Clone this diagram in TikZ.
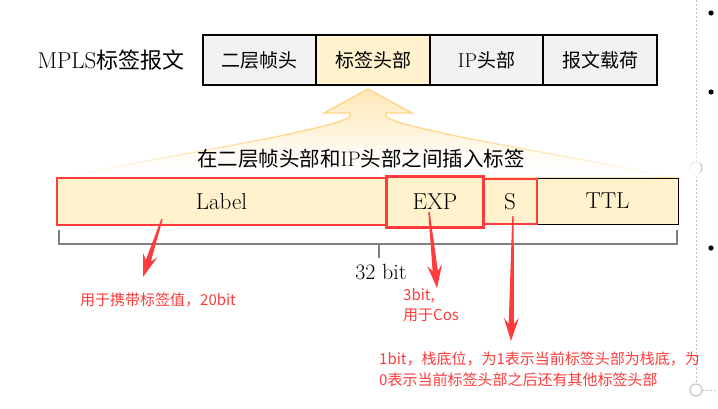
\documentclass[tikz,border=0pt]{standalone}
\usepackage{fontspec}
\newfontfamily\cjk{Noto Sans CJK SC}
\usetikzlibrary{calc,fadings}
\definecolor{boxgray}{HTML}{F2F2F2}
\definecolor{boxyel}{HTML}{FFF2CC}
\definecolor{myred}{HTML}{FF3B3B}
\definecolor{arrowline}{HTML}{FFD585}
\definecolor{arrowfill}{HTML}{FFE9B8}
\definecolor{brgray}{HTML}{808080}
\definecolor{guide}{HTML}{BFBFBF}
\newcommand\zh[1]{{\cjk #1}}
\newcommand\taperarrow[2]{%
  \coordinate (#1n) at ($(#2)!17pt!(#1)$);
  \coordinate (#1w) at ($(#2)!23pt!(#1)$);
  \fill[myred] ($(#1)!0.7pt!90:(#2)$) -- ($(#1n)!2.6pt!90:(#2)$) -- ($(#1w)!7.5pt!90:(#2)$)
    -- (#2) -- ($(#1w)!7.5pt!-90:(#2)$) -- ($(#1n)!2.6pt!-90:(#2)$) -- ($(#1)!0.7pt!-90:(#2)$) -- cycle;}
\begin{document}
\begin{tikzpicture}[x=1pt,y=-1pt,
  topbox/.style={draw=black,line width=1.5pt,minimum height=50pt,inner sep=0pt,
    font=\cjk\fontsize{19}{19}\selectfont},
  field/.style={minimum height=46pt,inner sep=0pt,fill=boxyel,font=\fontsize{23}{23}\selectfont},
  redtext/.style={text=myred,align=left,inner sep=0pt,font=\cjk\fontsize{15}{20.5}\selectfont},
  bracket/.style={draw=brgray,line width=2pt},
  guideline/.style={draw=guide,dashed,line width=0.6pt,dash pattern=on 2pt off 2pt}]
\useasboundingbox (0,0) rectangle (718,408);
\fill[white] (0,0) rectangle (718,408);

% slide artefacts on the right
\draw[guideline] (696,0) -- (696,384);
\draw[guideline] (702,390) -- (718,390);
\draw[guide,line width=1pt,fill=white] (696,168) circle (6pt);
\draw[guide,line width=1pt,fill=white] (696,390) circle (6pt);
\foreach \yy in {13,92,248} \fill[black] (711,\yy) circle (2.6pt);

% title
\node[font=\fontsize{23}{23}\selectfont,inner sep=0pt] (title) at (111,60) {MPLS{\cjk\fontsize{22}{22}\selectfont 标签报文}};

% top frame boxes
\node[topbox,fill=boxgray,minimum width=113pt] (l2) at (259.5,60) {二层帧头};
\node[topbox,fill=boxyel,minimum width=114pt] (lab) at (373,60) {标签头部};
\node[topbox,fill=boxgray,minimum width=113pt] (ip) at (486.5,60) {{\rmfamily\fontsize{20}{20}\selectfont IP}头部};
\node[topbox,fill=boxgray,minimum width=114pt] (pay) at (600,60) {报文载荷};

% insertion arrow shape
\path[top color=arrowfill,bottom color=white,draw=arrowline,line width=1.3pt]
  (368,89) -- (412,113) -- (386,113)
  .. controls (380,120) and (416,127) .. (456,136)
  .. controls (536,152) and (616,165) .. (676,178)
  -- (60,178)
  .. controls (120,165) and (200,152) .. (280,136)
  .. controls (320,127) and (356,120) .. (350,113)
  -- (324,113) -- cycle;
\fill[white,path fading=north] (40,132) rectangle (700,177);
\node[font=\cjk\fontsize{20.5}{20.5}\selectfont,inner sep=0pt] (ins) at (361,159)
  {在二层帧头部和{\rmfamily\fontsize{21}{21}\selectfont IP}头部之间插入标签};

% MPLS label fields
\fill[boxyel] (57,178) rectangle (678,224);
\draw[black,line width=1pt] (57,178) rectangle (678,224);
\node[field,minimum width=329pt] (label) at (221.5,201.5) {Label};
\node[field,minimum width=96pt,minimum height=50pt] (exp) at (435,202) {EXP};
\node[field,minimum width=54pt,minimum height=45pt] (s) at (510,201.5) {S};
\node[field,minimum width=141pt,draw=black,line width=1pt] (ttl) at (607.5,201) {TTL};
\draw[myred,line width=2.2pt] (label.north west) rectangle (label.south east);
\draw[myred,line width=1.8pt] (s.north west) rectangle (s.south east);
\draw[myred,line width=2.8pt] (exp.north west) rectangle (exp.south east);

% bracket
\draw[bracket] (59,230) -- (59,244) -- (677,244) -- (677,230);
\draw[bracket] (379,244) -- (379,258);
\node[font=\fontsize{22}{22}\selectfont,inner sep=0pt] (bits) at (381,272) {32 bit};

% red annotations
\node[redtext,anchor=west] (labtxt) at (80,300) {用于携带标签值，20bit};
\node[redtext,anchor=north west] (exptxt) at (403,288) {3bit,\\用于Cos};
\node[redtext,anchor=north west] (stxt) at (379,352) {1bit，栈底位，为1表示当前标签头部为栈底，为\\0表示当前标签头部之后还有其他标签头部};

\coordinate (las) at (162,219);
\coordinate (lat) at (143,277);
\coordinate (eas) at (429,212);
\coordinate (eat) at (437,288);
\coordinate (sas) at (513,216);
\coordinate (sat) at (511,341);
\taperarrow{las}{lat}
\taperarrow{eas}{eat}
\taperarrow{sas}{sat}
\end{tikzpicture}
\end{document}
